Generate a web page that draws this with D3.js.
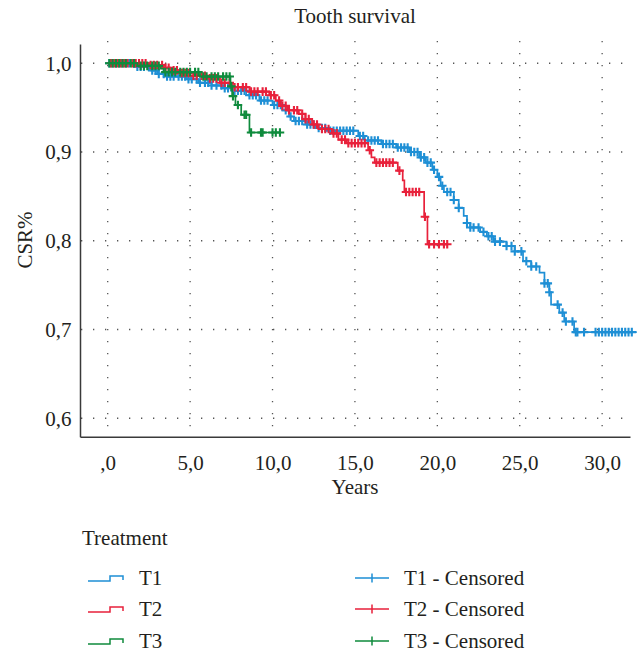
<!DOCTYPE html>
<html>
<head>
<meta charset="utf-8">
<script src="https://cdn.jsdelivr.net/npm/d3@7"></script>
<style>
  html, body { margin: 0; padding: 0; background: #fff; }
  svg text { font-family: "Liberation Serif", "DejaVu Serif", serif; fill: #231f20; }
</style>
</head>
<body>
<svg id="chart" width="642" height="654"></svg>
<script>
// ---------- data ----------
const titleText = "Tooth survival";
const xLabel = "Years";
const yLabel = "CSR%";
const xTicks = [0, 5, 10, 15, 20, 25, 30];
const yTicks = [0.6, 0.7, 0.8, 0.9, 1.0];
const groups = ["T1", "T2", "T3"];
const colors = ["#1e8fd5", "#e8213b", "#0f8b3d"];

// step (event) times and survival after each step
const t1Times = [0, 1.8, 2.6, 3.0, 3.6, 4.8, 5.5, 6.3, 7.0, 7.6, 8.4, 9.2, 10.0, 10.6, 11.0, 11.3, 12.0, 12.6, 13.4, 15.2, 15.6, 16.6, 17.5, 18.3, 18.9, 19.3, 19.7, 20.0, 20.2, 20.4, 21.0, 21.3, 21.6, 21.8, 22.0, 22.6, 23.0, 23.4, 24.2, 24.7, 25.2, 25.7, 26.2, 26.5, 26.8, 26.9, 27.4, 27.7, 28.3];
const t1Surv  = [1.0, 0.996, 0.992, 0.988, 0.985, 0.982, 0.978, 0.975, 0.972, 0.969, 0.964, 0.958, 0.953, 0.947, 0.940, 0.935, 0.931, 0.927, 0.924, 0.918, 0.913, 0.909, 0.905, 0.900, 0.894, 0.888, 0.880, 0.872, 0.862, 0.855, 0.846, 0.837, 0.828, 0.820, 0.815, 0.810, 0.805, 0.799, 0.794, 0.788, 0.777, 0.771, 0.764, 0.752, 0.742, 0.728, 0.719, 0.709, 0.697];
const t1End = 32.1;
const t1Censored = [0.1, 0.3, 0.5, 0.7, 0.9, 1.1, 1.3, 1.6, 1.8, 2.0, 2.2, 2.5, 2.7, 2.9, 3.1, 3.4, 3.6, 3.8, 4.0, 4.3, 4.5, 4.7, 4.9, 5.1, 5.4, 5.6, 5.9, 6.1, 6.3, 6.6, 6.9, 7.1, 7.3, 7.7, 7.9, 8.1, 8.3, 8.6, 8.8, 9.0, 9.3, 9.5, 9.7, 10.1, 10.3, 10.5, 10.8, 11.1, 11.4, 11.6, 11.8, 12.1, 12.3, 12.5, 12.8, 13.0, 13.2, 13.5, 13.7, 13.9, 14.1, 14.3, 14.5, 14.7, 14.9, 15.3, 15.5, 15.8, 16.0, 16.2, 16.4, 16.7, 16.9, 17.1, 17.3, 17.6, 17.8, 18.0, 18.2, 18.4, 18.6, 18.8, 19.0, 19.2, 19.4, 19.6, 19.8, 20.1, 20.3, 20.6, 20.8, 21.0, 21.3, 21.8, 22.0, 22.2, 22.5, 22.8, 23.1, 23.3, 23.5, 23.8, 24.2, 24.5, 24.7, 25.1, 25.4, 25.7, 26.0, 26.5, 26.7, 26.8, 27.3, 27.6, 27.8, 28.2, 28.4, 28.5, 28.9, 29.6, 29.8, 30.0, 30.2, 30.4, 30.6, 30.8, 31.0, 31.2, 31.4, 31.6, 31.8];

const t2Times = [0, 2.5, 3.4, 3.8, 4.3, 5.0, 6.0, 6.8, 7.6, 8.6, 9.8, 10.2, 10.5, 10.9, 11.6, 12.0, 12.4, 12.8, 13.6, 14.0, 14.5, 15.8, 16.0, 16.2, 17.6, 17.9, 18.0, 19.2, 19.4];
const t2Surv  = [1.0, 0.998, 0.995, 0.992, 0.989, 0.986, 0.983, 0.978, 0.973, 0.968, 0.964, 0.958, 0.952, 0.947, 0.943, 0.937, 0.931, 0.926, 0.921, 0.914, 0.910, 0.902, 0.894, 0.888, 0.879, 0.868, 0.855, 0.827, 0.796];
const t2End = 20.6;
const t2Censored = [0.2, 0.4, 0.6, 0.8, 1.0, 1.2, 1.5, 1.7, 1.9, 2.1, 2.3, 2.6, 2.8, 3.0, 3.3, 3.5, 3.7, 4.0, 4.2, 4.5, 4.7, 4.9, 5.2, 5.4, 5.7, 5.9, 6.2, 6.4, 6.6, 6.9, 7.1, 7.4, 7.7, 7.9, 8.2, 8.4, 8.7, 8.9, 9.1, 9.4, 9.6, 9.9, 10.1, 10.4, 10.6, 10.8, 11.0, 11.3, 11.5, 11.8, 12.0, 12.2, 12.5, 12.7, 13.0, 13.2, 13.4, 13.7, 13.9, 14.2, 14.4, 14.6, 14.8, 15.0, 15.2, 15.4, 15.6, 15.9, 16.3, 16.5, 16.7, 16.9, 17.1, 17.3, 17.7, 18.1, 18.3, 18.5, 18.7, 18.9, 19.25, 19.5, 19.8, 20.1, 20.4, 20.6];

const t3Times = [0, 1.8, 3.2, 3.4, 5.6, 7.45, 7.55, 7.75, 8.1, 8.6];
const t3Surv  = [1.0, 0.997, 0.994, 0.990, 0.985, 0.974, 0.963, 0.953, 0.942, 0.922];
const t3End = 10.45;
const t3Censored = [0.1, 0.3, 0.5, 0.7, 0.9, 1.1, 1.4, 1.6, 2.0, 2.2, 2.4, 2.7, 2.9, 3.1, 3.5, 3.7, 3.9, 4.1, 4.4, 4.6, 4.8, 5.0, 5.3, 5.5, 5.8, 6.0, 6.3, 6.5, 6.7, 7.0, 7.2, 7.4, 7.5, 7.6, 7.9, 8.3, 8.4, 8.7, 9.3, 9.4, 10.0, 10.2, 10.45];

// ---------- drawing ----------
const svg = d3.select("#chart");
const ink = "#231f20";
const fs = 21;

const x = d3.scaleLinear().domain([-1.681, 31.69]).range([80, 630]);
const y = d3.scaleLinear().domain([0.5792, 1.0217]).range([436.7, 44]);

// grid (dotted)
const grid = svg.append("g").attr("stroke", "#555").attr("stroke-width", 1.3).attr("stroke-dasharray", "1.3,10.7");
grid.selectAll("line.v").data(xTicks).join("line")
  .attr("x1", d => x(d)).attr("x2", d => x(d))
  .attr("y1", 41).attr("y2", 436);
grid.selectAll("line.h").data(yTicks).join("line")
  .attr("x1", 81).attr("x2", 630)
  .attr("y1", d => y(d)).attr("y2", d => y(d));

// axes
const fmtX = d => d === 0 ? ",0" : d3.format(".1f")(d).replace(".", ",");
const fmtY = d => d3.format(".1f")(d).replace(".", ",");

const gx = svg.append("g").attr("transform", `translate(0,${y.range()[0]})`)
  .call(d3.axisBottom(x).tickValues(xTicks).tickSize(0).tickSizeOuter(0).tickFormat(fmtX));
gx.select(".domain").attr("stroke", "#3a3a3a").attr("stroke-width", 1.5);
gx.selectAll("text").attr("font-size", fs).attr("font-family", "Liberation Serif").attr("fill", ink)
  .attr("y", 33.5).attr("dy", 0);

const gy = svg.append("g").attr("transform", `translate(${x.range()[0]},0)`)
  .call(d3.axisLeft(y).tickValues(yTicks).tickSize(0).tickSizeOuter(0).tickFormat(fmtY));
gy.select(".domain").attr("stroke", "#3a3a3a").attr("stroke-width", 1.5);
gy.selectAll("text").attr("font-size", fs).attr("font-family", "Liberation Serif").attr("fill", ink)
  .attr("x", -8.5).attr("dy", "0.33em");

// labels
svg.append("text").attr("x", 355).attr("y", 23).attr("text-anchor", "middle").attr("font-size", fs).text(titleText);
svg.append("text").attr("x", 355).attr("y", 494).attr("text-anchor", "middle").attr("font-size", fs).text(xLabel);
svg.append("text").attr("transform", "translate(32,240) rotate(-90)").attr("text-anchor", "middle").attr("font-size", fs).text(yLabel);

// curves
const series = [
  {times: t1Times, surv: t1Surv, end: t1End, cens: t1Censored},
  {times: t2Times, surv: t2Surv, end: t2End, cens: t2Censored},
  {times: t3Times, surv: t3Surv, end: t3End, cens: t3Censored}
];
const stepLine = d3.line().x(d => x(d[0])).y(d => y(d[1])).curve(d3.curveStepAfter);
const bis = d3.bisector(d => d).right;

series.forEach((s, i) => {
  const pts = s.times.map((t, k) => [t, s.surv[k]]);
  pts.push([s.end, s.surv[s.surv.length - 1]]);
  const g = svg.append("g");
  g.append("path").attr("d", stepLine(pts)).attr("fill", "none")
    .attr("stroke", colors[i]).attr("stroke-width", 1.7);
  const cpts = s.cens.map(t => {
    const k = Math.max(0, bis(s.times, t) - 1);
    return [t, s.surv[k]];
  });
  const cr = 4.3;
  g.selectAll("path.c").data(cpts).join("path")
    .attr("d", d => `M${x(d[0]) - cr},${y(d[1])}H${x(d[0]) + cr}M${x(d[0])},${y(d[1]) - cr}V${y(d[1]) + cr}`)
    .attr("stroke", colors[i]).attr("stroke-width", 2.1).attr("fill", "none");
});

// legend
svg.append("text").attr("x", 82).attr("y", 545).attr("font-size", fs).text("Treatment");
const legY = [578, 609, 641];
groups.forEach((gname, i) => {
  const yy = legY[i];
  svg.append("path").attr("d", `M88,${yy + 3}H110V${yy - 2}H123V${yy + 2}`)
    .attr("fill", "none").attr("stroke", colors[i]).attr("stroke-width", 1.5);
  svg.append("text").attr("x", 139).attr("y", yy + 7).attr("font-size", fs).text(gname);
  svg.append("path").attr("d", `M355,${yy}H389M372,${yy - 4.5}V${yy + 4.5}`)
    .attr("fill", "none").attr("stroke", colors[i]).attr("stroke-width", 1.5);
  svg.append("text").attr("x", 404).attr("y", yy + 7).attr("font-size", fs).text(gname + " - Censored");
});
</script>
</body>
</html>
